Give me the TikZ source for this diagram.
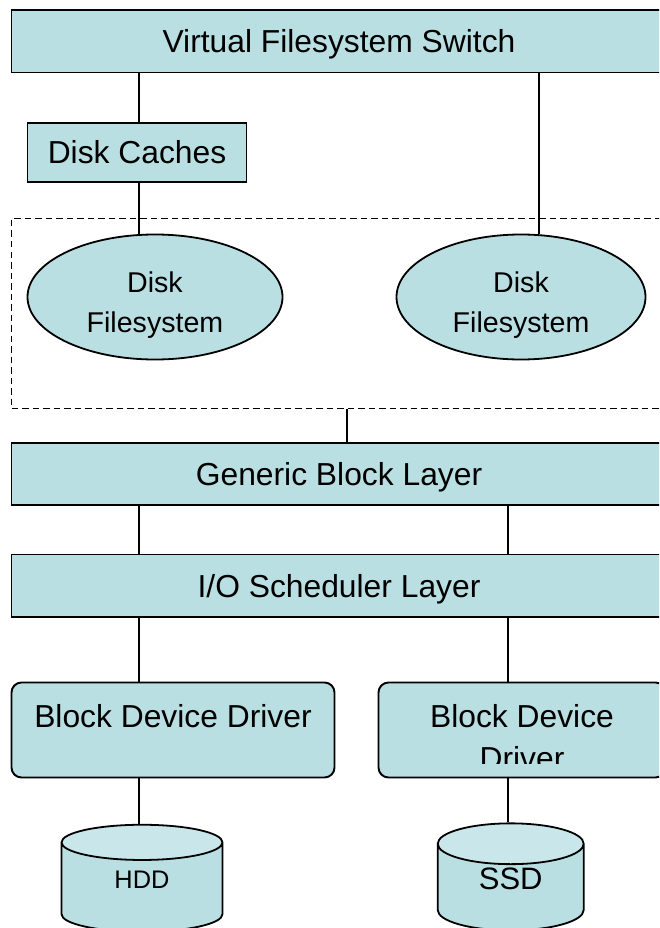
\documentclass[tikz,border=0pt]{standalone}
\usepackage{fontspec}
\setmainfont{Liberation Sans}
\usetikzlibrary{shapes.geometric}

\definecolor{layerfill}{RGB}{185,223,226}
\definecolor{disktop}{RGB}{201,231,234}

\newcommand{\layerfont}{\fontsize{31.8}{42.5}\selectfont}
\newcommand{\fsfont}{\fontsize{28.6}{40}\selectfont}

\begin{document}
\begin{tikzpicture}[x=1pt,y=-1pt,
    every edge/.append style={line width=1.3pt},
    layer/.style={draw,line width=1.9pt,fill=layerfill,inner sep=0pt,
                  minimum width=655pt,minimum height=62.5pt,
                  font=\layerfont,text height=23pt,text depth=0pt},
    group/.style={draw,line width=1.8pt,dash pattern=on 6.5pt off 4pt,
                  inner sep=0pt,minimum width=655pt,minimum height=190pt},
    diskfs/.style={ellipse,draw,line width=1.8pt,fill=layerfill,
                   inner sep=0pt,minimum height=125pt},
    fstext/.style={font=\fsfont,align=center,anchor=north,inner sep=0pt},
    driver/.style={draw,line width=1.9pt,fill=layerfill,rounded corners=10pt,
                   inner sep=0pt,minimum height=95pt},
    drvtext/.style={font=\layerfont,align=center,anchor=north,inner sep=0pt},
    disk/.style={cylinder,shape border rotate=90,aspect=0.64,draw,
                 line width=1.8pt,cylinder uses custom fill,
                 cylinder body fill=layerfill,cylinder end fill=disktop,
                 minimum height=107pt,inner sep=0pt}]

  \useasboundingbox (0,0) rectangle (659,928);
  \clip (0,0) rectangle (659,928);

  % columns of the connectors
  \coordinate (colL) at (139,0);
  \coordinate (colM) at (347,0);
  \coordinate (colR) at (508,0);
  \coordinate (colF) at (539,0);

  \node[layer] (vfs)                        at (339,41.3)   {Virtual Filesystem Switch};
  \node[layer,minimum width=219pt,
        minimum height=59pt] (cache)        at (137,152.2)  {Disk Caches};

  \node[group] (fsgroup)                    at (339,313.5)  {};
  \node[diskfs,minimum width=255pt] (fsA)   at (155,297)    {};
  \node[diskfs,minimum width=249pt] (fsB)   at (521,297)    {};
  \node[fstext] (fsAtext)                   at (155,271.5)  {Disk\\Filesystem};
  \node[fstext] (fsBtext)                   at (521,271.5)  {Disk\\Filesystem};

  \node[layer] (gbl)                        at (339,473.8)  {Generic Block Layer};
  \node[layer] (iosched)                    at (339,585.7)  {I/O Scheduler Layer};

  \node[driver,minimum width=323pt] (bddA)  at (173,730)    {};
  \node[driver,minimum width=287pt] (bddB)  at (522,730)    {};
  \node[drvtext] (bddAtext)                 at (173,704.2)  {Block Device Driver};
  \begin{scope}
    \clip (bddB.north west) rectangle ([yshift=15pt]bddB.south east);
    \node[drvtext] (bddBtext)               at (522,704.2)  {Block Device\\Driver};
  \end{scope}

  \node[disk,minimum width=161pt,font=\fontsize{25.4}{30}\selectfont,
        text height=18pt,text depth=17pt] (hdd)  at (142,887.5)   {HDD};
  \node[disk,minimum width=146pt,font=\fontsize{31}{37}\selectfont,
        text height=22pt,text depth=19pt] (ssd)  at (510.7,887.5) {SSD};

  \path (vfs.south -| colL)     edge (cache.north -| colL)
        (cache.south -| colL)   edge (fsA.north -| colL)
        (vfs.south -| colF)     edge (fsB.north -| colF)
        (fsgroup.south -| colM) edge (gbl.north -| colM)
        (gbl.south -| colL)     edge (iosched.north -| colL)
        (gbl.south -| colR)     edge (iosched.north -| colR)
        (iosched.south -| colL) edge (bddA.north -| colL)
        (iosched.south -| colR) edge (bddB.north -| colR)
        (bddA.south -| colL)    edge (hdd.north -| colL)
        (bddB.south -| colR)    edge (ssd.north -| colR);

\end{tikzpicture}
\end{document}
